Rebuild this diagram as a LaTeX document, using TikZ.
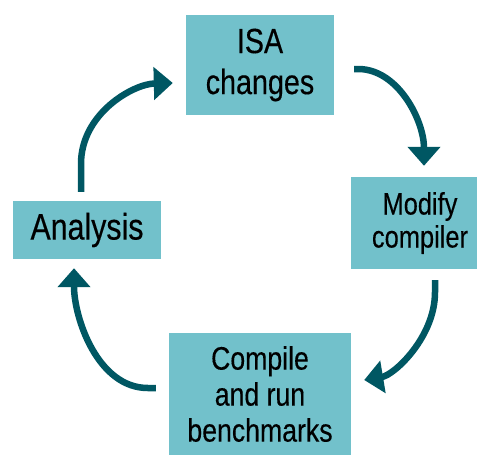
\documentclass[tikz,border=0pt]{standalone}
\usepackage{fontspec}
\setmainfont{Liberation Sans}[FakeStretch=0.82,FakeBold=0.3]
\usetikzlibrary{arrows.meta}
\definecolor{boxfill}{HTML}{72C1CB}
\definecolor{arrowc}{HTML}{005763}
\tikzset{
  stepbox/.style={fill=boxfill, draw=none, align=center, inner sep=0pt, anchor=center},
  cyclearrow/.style={draw=arrowc, line width=6.5pt, -{Triangle[length=19pt,width=32pt]}},
}
\begin{document}
\begin{tikzpicture}[x=1pt,y=-1pt]
\useasboundingbox (0,0) rectangle (482,455);
\node[stepbox, minimum width=148pt, minimum height=100pt,
      font=\fontsize{35}{41}\selectfont] (isa) at (260,65) {ISA\\changes};
\node[stepbox, minimum width=126pt, minimum height=92pt,
      font=\fontsize{31}{33}\selectfont] (mod) at (414,223)
      {\hspace*{12pt}Modify\\\hspace*{12pt}compiler};
\node[stepbox, minimum width=182pt, minimum height=122pt,
      font=\fontsize{32.5}{36}\selectfont] (cmp) at (260,394) {Compile\\and run\\benchmarks};
\node[stepbox, minimum width=148pt, minimum height=58pt,
      font=\fontsize{37}{40}\selectfont] (ana) at (87,230) {Analysis};
% Analysis -> ISA changes
\draw[cyclearrow] ([xshift=-6pt,yshift=9pt]ana.north) -- ++(0,-28)
  .. controls +(0,-50) and +(-40,1) .. ([xshift=-13pt,yshift=-18pt]isa.west);
% ISA changes -> Modify compiler
\draw[cyclearrow] ([xshift=20pt,yshift=-4pt]isa.east) -- ++(4,0)
  .. controls +(40,0) and +(0,-45) .. ([xshift=10pt,yshift=11pt]mod.north);
% Modify compiler -> Compile and run
\draw[cyclearrow] ([xshift=21pt,yshift=-11pt]mod.south) -- ++(0,12)
  .. controls +(0,45) and +(30,-5) .. ([xshift=13pt,yshift=14pt]cmp.east);
% Compile and run -> Analysis
\draw[cyclearrow] ([xshift=-13pt,yshift=6pt]cmp.west) -- ++(-8,0)
  .. controls +(-50,0) and +(0,50) .. ([xshift=-13pt,yshift=-9pt]ana.south);
\end{tikzpicture}
\end{document}
